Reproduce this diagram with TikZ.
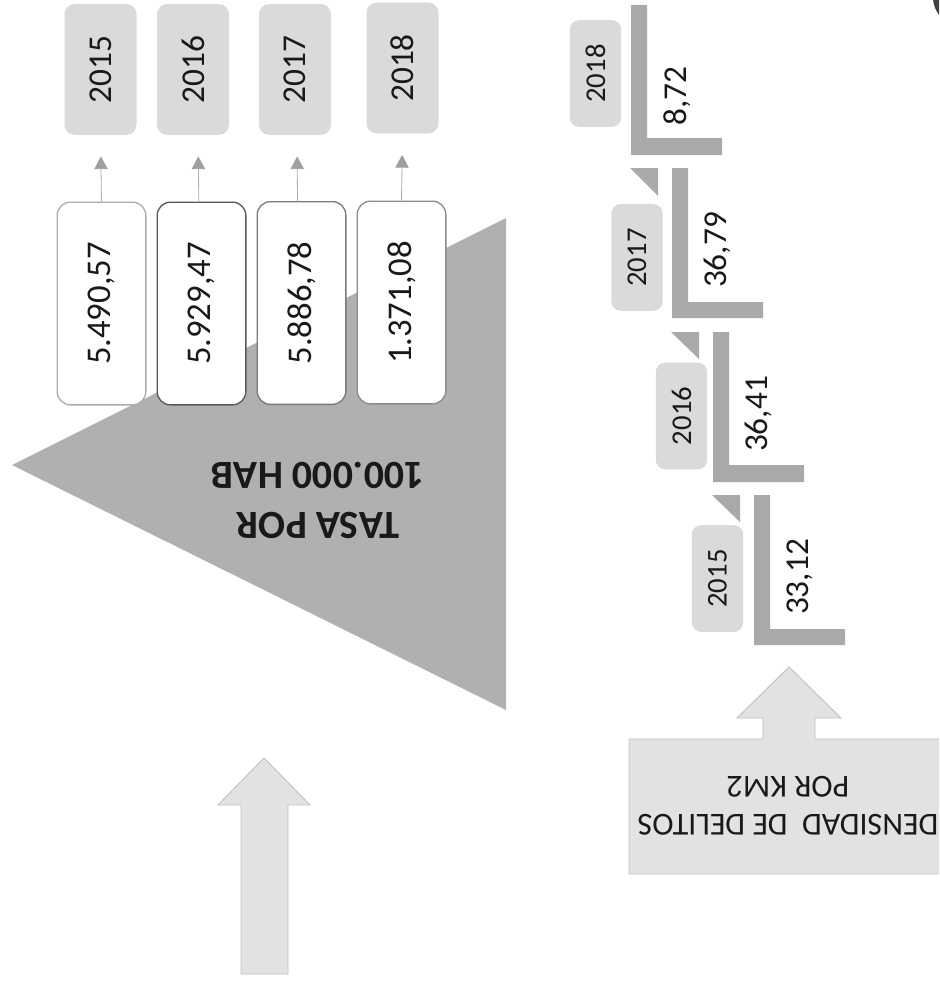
\documentclass[tikz,border=0pt]{standalone}
\usepackage{fontspec}
\setmainfont{Carlito}
\usetikzlibrary{arrows.meta}
\definecolor{triG}{HTML}{B0B0B0}
\definecolor{barG}{HTML}{A9A9A9}
\definecolor{yearG}{HTML}{DADADA}
\definecolor{arrowF}{HTML}{E2E2E2}
\definecolor{arrowL}{HTML}{C2C2C2}
\tikzset{
  x=0.75pt,y=-0.75pt,
  yearbig/.style={rotate=90,fill=yearG,rounded corners=7.5pt,inner sep=0pt,minimum width=98pt,minimum height=54pt,font=\fontsize{25}{28}\selectfont,text=black!90},
  yearsmall/.style={rotate=90,fill=yearG,rounded corners=7pt,inner sep=0pt,minimum width=80pt,minimum height=38.5pt,font=\fontsize{21.5}{24}\selectfont,text=black!90},
  valbox/.style={rotate=90,fill=white,draw=#1,line width=1pt,rounded corners=10pt,inner sep=0pt,minimum width=152pt,minimum height=66.5pt,font=\fontsize{26}{29}\selectfont,text=black!90},
  vallabel/.style={rotate=90,inner sep=0pt,font=\fontsize{25}{28}\selectfont,text=black!90},
  thin arrow/.style={draw=gray!65,line width=0.6pt,-{Triangle[length=9.5pt,width=10pt,color=gray!75]},shorten >=16pt},
  lbar/.style={fill=barG,draw=none},
  tipmark/.style={fill=barG,draw=none},
  blockarrow/.style={fill=arrowF,draw=arrowL,line width=0.7pt},
  upside/.style={rotate=180,inner sep=0pt,align=center,text=black!90}
}
\begin{document}
\begin{tikzpicture}
\useasboundingbox (0,0) rectangle (939,981);
\fill[white] (0,0) rectangle (939,981);
\begin{scope}
\clip (0,0) rectangle (939,981);
% corner disc
\fill[black!75] (963,-3) circle (30);
% big triangle
\fill[triG] (12,465) -- (506,218) -- (506,710) -- cycle;
\node[upside,font=\fontsize{30}{37.5}\selectfont\bfseries] (title1) at (318,500) {TASA POR\\100.000 HAB};
% value boxes
\node[valbox=black!32] (v1) at (101.5,303.5) {5.490,57};
\node[valbox=black!65] (v2) at (201.5,303.5) {5.929,47};
\node[valbox=black!52] (v3) at (301.5,303) {5.886,78};
\node[valbox=black!45] (v4) at (401.5,302.5) {1.371,08};
% year boxes
\node[yearbig] (y1) at (100.5,69.5) {2015};
\node[yearbig] (y2) at (193,69.5) {2016};
\node[yearbig] (y3) at (295,69.5) {2017};
\node[yearbig] (y4) at (402.5,68) {2018};
% connectors
\draw[thin arrow] (v1.east) -- (y1.west);
\draw[thin arrow] ([xshift=-2pt]v2.east) -- ([xshift=3.75pt]y2.west);
\draw[thin arrow] ([xshift=-3pt]v3.east) -- ([xshift=1.5pt]y3.west);
\draw[thin arrow] (v4.east) -- (y4.west);
% lower-left block arrow
\draw[blockarrow] (264,758) -- (310,805) -- (288,805) -- (288,974) -- (241,974) -- (241,805) -- (218,805) -- cycle;
% L bars
\fill[lbar] (631,5) -- (647,5) -- (647,138) -- (722,138) -- (722,155) -- (631,155) -- cycle;
\fill[lbar] (672,168) -- (688,168) -- (688,302) -- (763,302) -- (763,318) -- (672,318) -- cycle;
\fill[lbar] (713,332) -- (729,332) -- (729,465) -- (804,465) -- (804,482) -- (713,482) -- cycle;
\fill[lbar] (754,495) -- (770,495) -- (770,629) -- (845,629) -- (845,645) -- (754,645) -- cycle;
% tips
\fill[tipmark] (630,168) -- (658,168) -- (658,196) -- cycle;
\fill[tipmark] (671,332) -- (699,332) -- (699,359) -- cycle;
\fill[tipmark] (712,495) -- (740,495) -- (740,522) -- cycle;
% small year boxes
\node[yearsmall] (s4) at (595.5,73.5) {2018};
\node[yearsmall] (s3) at (637,257.5) {2017};
\node[yearsmall] (s2) at (681.5,416) {2016};
\node[yearsmall] (s1) at (717.5,578.5) {2015};
% values
\node[vallabel] (d4) at (677,96) {8,72};
\node[vallabel] (d3) at (717.5,250) {36,79};
\node[vallabel] (d2) at (758.5,414) {36,41};
\node[vallabel] (d1) at (799.5,577) {33,12};
% callout
\draw[blockarrow] (789,667) -- (841,718) -- (815,718) -- (815,739) -- (945,739) -- (945,874) -- (629,874) -- (629,739) -- (763,739) -- (763,718) -- (737,718) -- cycle;
\node[upside,font=\fontsize{24}{28.5}\selectfont] (t2) at (788,806) {DENSIDAD\ \ DE DELITOS\\POR KM2};
\end{scope}
\end{tikzpicture}
\end{document}
